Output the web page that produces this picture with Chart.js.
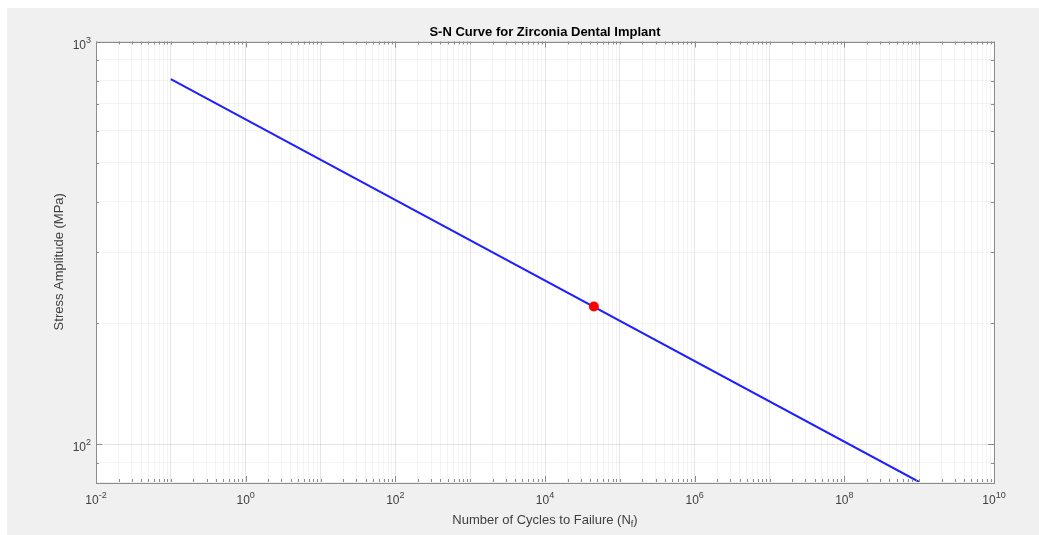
<!DOCTYPE html>
<html>
<head>
<meta charset="utf-8">
<script src="https://cdn.jsdelivr.net/npm/chart.js@4.4.0/dist/chart.umd.min.js"></script>
<style>
  html, body { margin: 0; padding: 0; background: #ffffff; }
  #fig { position: absolute; left: 7px; top: 8px; width: 1032px; height: 527px; background: #f0f0f0; }
</style>
</head>
<body>
<div id="fig"><canvas id="snChart"></canvas></div>
<script>
'use strict';
// ===================== data =====================
const cycles      = [0.1, 1e9];      // N_f, ends of the fitted curve
const stress      = [807, 80.7];     // MPa
const testCycles  = [4.5e4];         // operating point
const testStress  = [220];
const xTickExps   = [-2, 0, 2, 4, 6, 8, 10];
const yTickExps   = [2, 3];
const xRange      = [1e-2, 1e10];
const yRange      = [80.7, 1e3];

const axisColor   = '#8c8c8c';
const labelColor  = '#404040';
const fontFamily  = '"Liberation Sans", Arial, sans-serif';

// every 1..9 x 10^k step between min and max
function logSteps(min, max) {
    const out = [];
    for (let e = Math.floor(Math.log10(min)); e <= Math.ceil(Math.log10(max)); e++) {
        for (let m = 1; m <= 9; m++) {
            const v = m * Math.pow(10, e);
            if (v >= min * 0.999 && v <= max * 1.001) out.push({ value: v });
        }
    }
    return out;
}

function isDecade(v) {
    const l = Math.log10(v);
    return Math.abs(l - Math.round(l)) < 1e-6;
}

function gridColor(ctx) {
    const v = ctx.tick && ctx.tick.value;
    return v && isDecade(v) ? 'rgba(0,0,0,0.10)' : 'rgba(0,0,0,0.045)';
}

// white axes box, inward ticks on four sides, 10^n tick labels, x label with subscript
const matlabAxes = {
    id: 'matlabAxes',
    beforeDraw(chart) {
        const { ctx, chartArea: a } = chart;
        ctx.save();
        ctx.fillStyle = '#ffffff';
        ctx.fillRect(a.left, a.top, a.right - a.left, a.bottom - a.top);
        ctx.restore();
    },
    afterDraw(chart) {
        const { ctx, chartArea: a, scales } = chart;
        const xs = scales.x, ys = scales.y;
        ctx.save();
        ctx.strokeStyle = axisColor;
        ctx.lineWidth = 1;
        ctx.strokeRect(Math.round(a.left) + 0.5, Math.round(a.top) + 0.5,
                       Math.round(a.right - a.left), Math.round(a.bottom - a.top));

        ctx.beginPath();
        xs.ticks.forEach(t => {
            const px = Math.round(xs.getPixelForValue(t.value)) + 0.5;
            const major = xTickExps.some(e => Math.abs(Math.log10(t.value) - e) < 1e-6);
            const len = major ? 6 : 3;
            ctx.moveTo(px, a.bottom); ctx.lineTo(px, a.bottom - len);
            ctx.moveTo(px, a.top);    ctx.lineTo(px, a.top + len);
        });
        ys.ticks.forEach(t => {
            const py = Math.round(ys.getPixelForValue(t.value)) + 0.5;
            const major = yTickExps.some(e => Math.abs(Math.log10(t.value) - e) < 1e-6);
            const len = major ? 6 : 3;
            ctx.moveTo(a.left, py);  ctx.lineTo(a.left + len, py);
            ctx.moveTo(a.right, py); ctx.lineTo(a.right - len, py);
        });
        ctx.stroke();

        const base = '12px ' + fontFamily, sup = '9px ' + fontFamily;
        ctx.fillStyle = labelColor;
        ctx.textBaseline = 'alphabetic';
        ctx.textAlign = 'left';
        xTickExps.forEach(e => {
            const px = xs.getPixelForValue(Math.pow(10, e));
            ctx.font = base; const wb = ctx.measureText('10').width;
            ctx.font = sup;  const we = ctx.measureText(String(e)).width;
            const x0 = px - (wb + we) / 2;
            ctx.font = base; ctx.fillText('10', x0, a.bottom + 22);
            ctx.font = sup;  ctx.fillText(String(e), x0 + wb, a.bottom + 16);
        });
        yTickExps.forEach(e => {
            const py = ys.getPixelForValue(Math.pow(10, e));
            ctx.font = sup;  const we = ctx.measureText(String(e)).width;
            ctx.font = base; const wb = ctx.measureText('10').width;
            const x1 = a.left - 5;
            ctx.font = base; ctx.fillText('10', x1 - we - wb, py + 7);
            ctx.font = sup;  ctx.fillText(String(e), x1 - we, py + 1);
        });

        // x axis label: "Number of Cycles to Failure (N_f)"
        const lbl = '13px ' + fontFamily, sub = '9px ' + fontFamily;
        const parts = [['Number of Cycles to Failure (N', lbl, 0], ['f', sub, 3], [')', lbl, 0]];
        let total = 0;
        parts.forEach(p => { ctx.font = p[1]; total += ctx.measureText(p[0]).width; });
        let x = (a.left + a.right) / 2 - total / 2;
        const baseY = a.bottom + 42;
        parts.forEach(p => {
            ctx.font = p[1];
            ctx.fillText(p[0], x, baseY + p[2]);
            x += ctx.measureText(p[0]).width;
        });
        ctx.restore();
    }
};

new Chart(document.getElementById('snChart'), {
    type: 'line',
    data: {
        datasets: [{
            label: 'Operating point',
            data: testCycles.map((n, i) => ({ x: n, y: testStress[i] })),
            order: 0,
            showLine: false,
            pointRadius: 5,
            pointBorderWidth: 0,
            pointBackgroundColor: '#ff0000',
            pointBorderColor: '#ff0000'
        }, {
            label: 'S-N curve',
            data: cycles.map((n, i) => ({ x: n, y: stress[i] })),
            order: 1,
            borderColor: '#1f1fff',
            borderWidth: 2,
            pointRadius: 0,
            fill: false
        }]
    },
    plugins: [matlabAxes],
    options: {
        responsive: true,
        maintainAspectRatio: false,
        animation: false,
        layout: { padding: { left: 44.2, right: 45, top: 0, bottom: 53 } },
        scales: {
            x: {
                type: 'logarithmic',
                min: xRange[0], max: xRange[1],
                afterBuildTicks: s => { s.ticks = logSteps(xRange[0], xRange[1]); },
                ticks: { display: false },
                grid: { color: gridColor, drawTicks: false },
                border: { display: false }
            },
            y: {
                type: 'logarithmic',
                min: yRange[0], max: yRange[1],
                afterBuildTicks: s => { s.ticks = logSteps(yRange[0], yRange[1]); },
                ticks: { display: false },
                grid: { color: gridColor, drawTicks: false },
                border: { display: false },
                title: {
                    display: true,
                    text: 'Stress Amplitude (MPa)',
                    color: labelColor,
                    font: { family: fontFamily, size: 13 },
                    padding: { top: 0, bottom: 29.2 }
                }
            }
        },
        plugins: {
            legend: { display: false },
            tooltip: { enabled: false },
            title: {
                display: true,
                fullSize: false,
                text: 'S-N Curve for Zirconia Dental Implant',
                color: '#000000',
                font: { family: fontFamily, size: 13, weight: 'bold' },
                padding: { top: 16.7, bottom: 1.2 }
            }
        }
    }
});
</script>
</body>
</html>
